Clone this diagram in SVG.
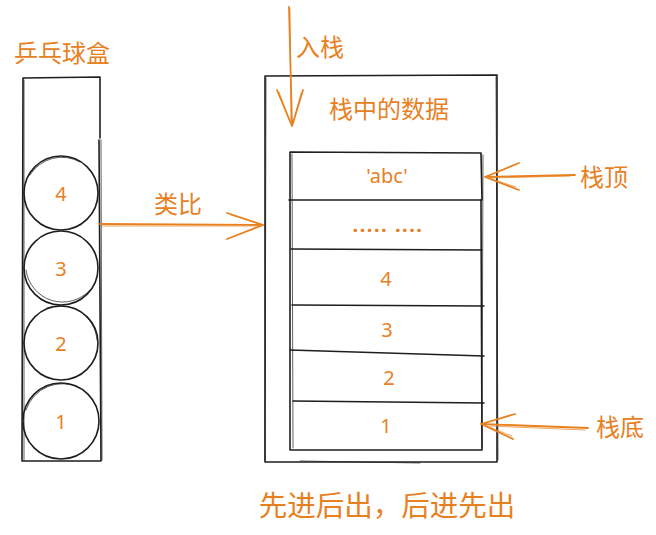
<svg xmlns="http://www.w3.org/2000/svg" width="656" height="535" viewBox="0 0 656 535">
<style>
.ink{fill:none;stroke:#1e1e1e;stroke-width:1.6;stroke-linecap:round;stroke-linejoin:round}
.ink2{fill:none;stroke:#1e1e1e;stroke-width:1;stroke-linecap:round;opacity:0.7}
.arr{fill:none;stroke:#e8801f;stroke-width:1.8;stroke-linecap:round;stroke-linejoin:round}
.arr2{fill:none;stroke:#e8801f;stroke-width:1;stroke-linecap:round;opacity:0.7}
.t{fill:#e8801f;font-family:"Noto Sans CJK SC","Noto Sans",sans-serif;dominant-baseline:central;text-anchor:middle;font-size:24px}
.big{font-size:28.5px}
.n{fill:#e8801f;font-family:"Noto Sans","Noto Sans CJK SC",sans-serif;dominant-baseline:central;text-anchor:middle;font-size:20px}
</style>
<rect width="656" height="535" fill="#ffffff"/>

<g id="pingpong-box">
  <path class="ink" d="M23 78 L100 77 L100 138 M99 140 L101 461 L22 461 L23 78"/>
  <path class="ink2" d="M24 80 L24 460 M101 140 L102 460"/>
  <text class="t" x="62" y="51">乒乓球盒</text>
</g>
<g id="ball-4">
  <circle class="ink" cx="61" cy="193" r="37"/>
  <path class="ink2" d="M30 175 A37 37 0 0 1 80 162"/>
  <text class="n" x="61" y="193">4</text>
</g>
<g id="ball-3">
  <circle class="ink" cx="61" cy="268" r="37"/>
  <path class="ink2" d="M26 270 A37 37 0 0 0 90 290"/>
  <text class="n" x="61" y="268">3</text>
</g>
<g id="ball-2">
  <circle class="ink" cx="61" cy="343" r="37"/>
  <path class="ink2" d="M47 308 A37 37 0 0 1 97 340"/>
  <text class="n" x="61" y="343">2</text>
</g>
<g id="ball-1">
  <circle class="ink" cx="61" cy="421" r="38"/>
  <path class="ink2" d="M26 410 A38 38 0 0 1 80 388"/>
  <text class="n" x="61" y="421">1</text>
</g>

<g id="stack-outer">
  <path class="ink" d="M265 76 L497 75 L497 462 L265 462 Z"/>
  <path class="ink2" d="M266 78 L265 460 M496 77 L498 460 M300 461 L420 463"/>
  <text class="t" x="389" y="107">栈中的数据</text>
</g>
<g id="stack-inner">
  <path class="ink" d="M290 152 L481 153 L482 200 M290 152 L290 450 L482 450 L481 200"/>
  <path class="ink2" d="M292 154 L293 448 M483 155 L482 448"/>
  <path class="ink" d="M289 200 L481 200"/>
  <path class="ink" d="M291 249 L482 250"/>
  <path class="ink" d="M292 305 L484 306"/>
  <path class="ink" d="M290 350 L484 356"/>
  <path class="ink" d="M293 401 L484 403"/>
</g>
<g id="cell-abc"><text class="n" x="387" y="175">'abc'</text></g>
<g id="cell-dots"><text class="n" x="388" y="224" font-weight="bold" letter-spacing="1.5">..... ....</text></g>
<g id="cell-4"><text class="n" x="386" y="278">4</text></g>
<g id="cell-3"><text class="n" x="387" y="329">3</text></g>
<g id="cell-2"><text class="n" x="389" y="377">2</text></g>
<g id="cell-1"><text class="n" x="386" y="425">1</text></g>

<g id="label-push"><text class="t" x="320" y="45">入栈</text></g>
<g id="label-analogy"><text class="t" x="178" y="202">类比</text></g>
<g id="label-top"><text class="t" x="604" y="175">栈顶</text></g>
<g id="label-bottom"><text class="t" x="620" y="425">栈底</text></g>
<g id="label-lifo"><text class="t big" x="387" y="503">先进后出，后进先出</text></g>

<g id="connectors">
  <path class="arr" d="M289 7 L292 126 M277 90 L292 126 M303 90 L292 126"/>
  <path class="arr2" d="M290 9 L291 120 M279 92 L291 124 M301 93 L293 124"/>
  <path class="arr" d="M100 224 L263 225 M227 213 L263 225 M227 239 L263 225"/>
  <path class="arr2" d="M102 226 L258 226 M231 215 L260 224"/>
  <path class="arr" d="M575 175 L485 177 M519 163 L485 177 M519 190 L485 177"/>
  <path class="arr2" d="M570 176 L490 178 M516 187 L488 178"/>
  <path class="arr" d="M588 428 L481 424 M515 414 L481 424 M513 439 L481 424"/>
  <path class="arr2" d="M585 430 L490 426 M512 436 L484 425"/>
</g>
</svg>
